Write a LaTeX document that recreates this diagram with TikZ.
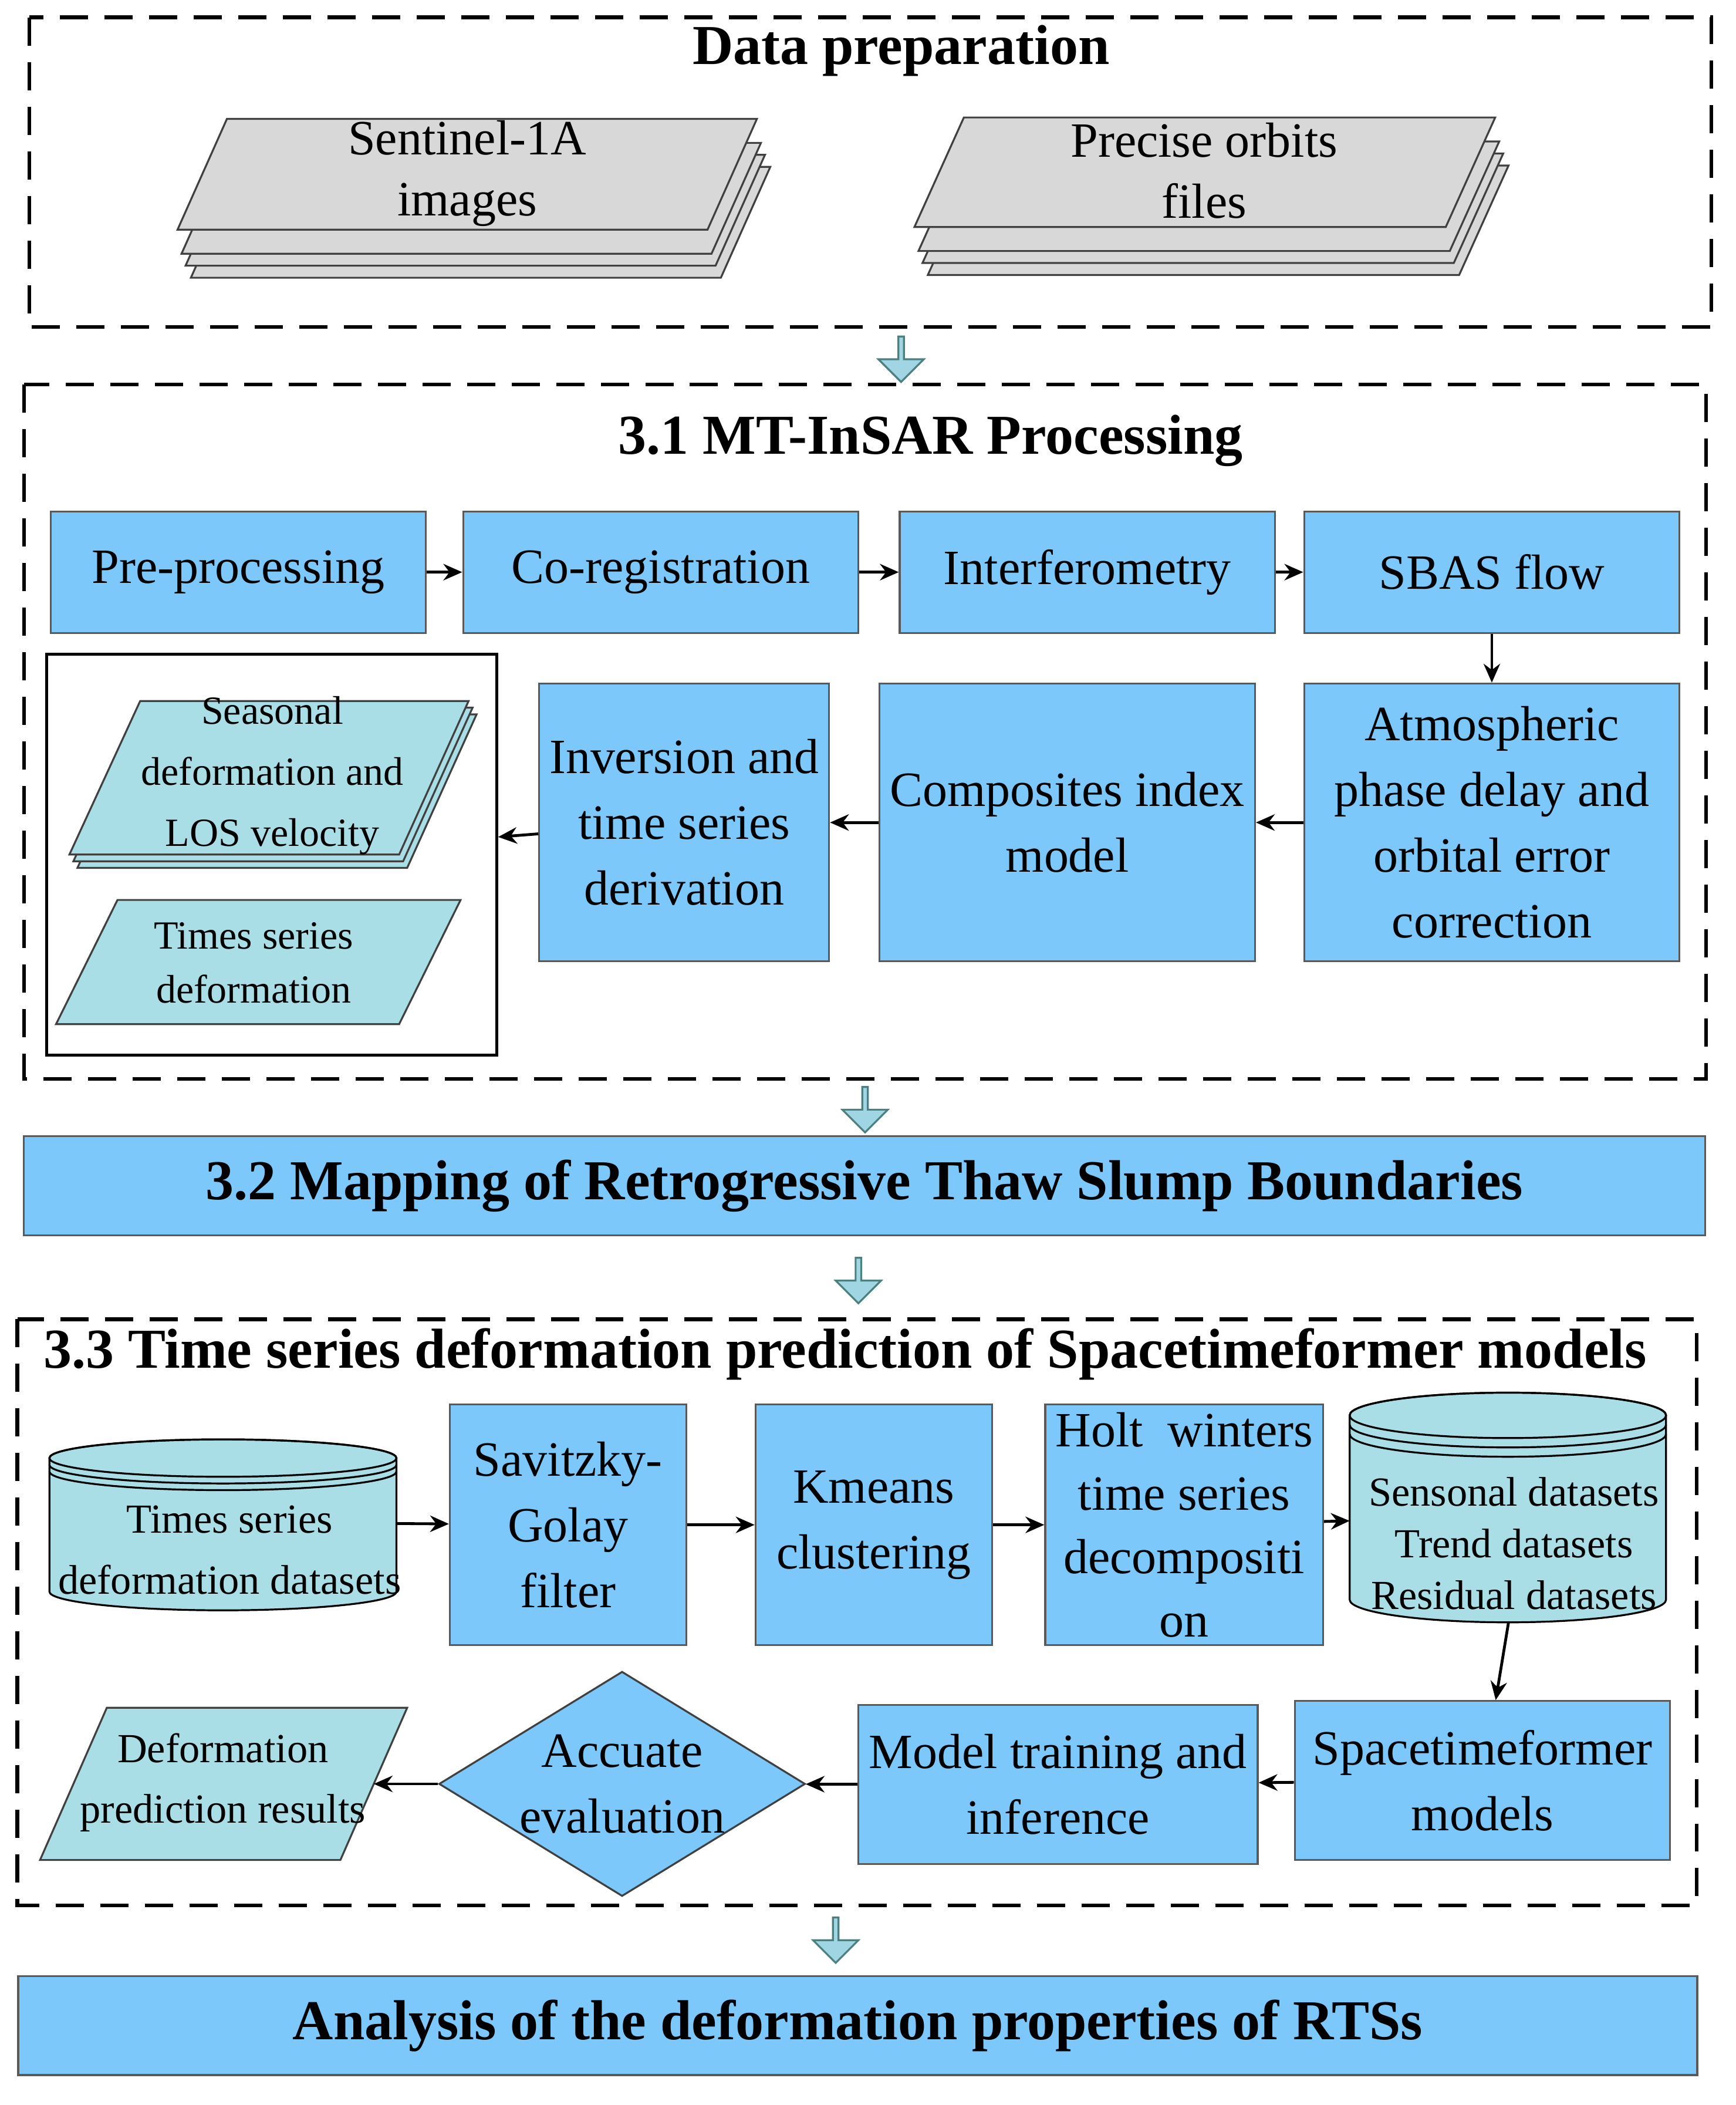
\documentclass[tikz,border=0pt]{standalone}
\usepackage{fontspec}
\setmainfont{Liberation Serif}
\usetikzlibrary{arrows.meta,shapes.geometric,shapes.arrows,positioning}

\definecolor{boxblue}{RGB}{124,200,250}
\definecolor{datacyan}{RGB}{170,222,230}
\definecolor{stackgray}{RGB}{216,216,216}
\definecolor{bigarrow}{RGB}{160,214,228}

\tikzset{
	frame/.style={draw,dashed,line width=0.8pt,dash pattern=on 6pt off 3.5pt},
	proc/.style={draw=gray!70!black,fill=boxblue,line width=0.4pt,align=center,
		font=\fontsize{10.5}{14}\selectfont,inner sep=0pt},
	title/.style={font=\bfseries\fontsize{12}{14}\selectfont},
	small/.style={font=\fontsize{8.5}{11.5}\selectfont,align=center},
	link/.style={-{Stealth[length=4pt,width=3.5pt]},line width=0.6pt},
	fat/.style={single arrow,draw=gray!60!teal,fill=bigarrow,rotate=-90,
		minimum height=0.34cm,minimum width=0.34cm,single arrow head extend=0.05cm,inner sep=0pt}
}

\begin{document}
\begin{tikzpicture}[x=0.01cm,y=0.01cm]
	\useasboundingbox (0,0) rectangle (1300,-1576.5);
	
	% 数据准备
	\draw[frame] (22,-13) rectangle (1282,-245);
	\node[title] (prep) at (675,-38) {Data preparation};
	\foreach \dx/\dy in {10/36,6/27,3/18,0/0}{
		\draw[fill=stackgray,draw=gray!50!black] (170+\dx,-89-\dy) -- (567+\dx,-89-\dy) -- (530+\dx,-172-\dy) -- (133+\dx,-172-\dy) -- cycle;
		\draw[fill=stackgray,draw=gray!50!black] (722+\dx,-88-\dy) -- (1120+\dx,-88-\dy) -- (1083+\dx,-170-\dy) -- (685+\dx,-170-\dy) -- cycle;
	}
	\node[small,font=\fontsize{10.5}{13}\selectfont] (s1a) at (350,-130) {Sentinel-1A\\images};
	\node[small,font=\fontsize{10.5}{13}\selectfont] (orb) at (902,-128) {Precise orbits\\files};
	\node[fat] (f1) at (675,-268) {};
	
	% 3.1
	\draw[frame] (18,-288) rectangle (1278,-808);
	\node[title] (t31) at (697,-330) {3.1 MT-InSAR Processing};
	\node[proc,minimum width=2.81cm,minimum height=0.91cm] (pre) at (178.5,-428.5) {Pre-processing};
	\node[proc,minimum width=2.96cm,minimum height=0.91cm] (coreg) at (495,-428.5) {Co-registration};
	\node[proc,minimum width=2.81cm,minimum height=0.91cm] (ifg) at (814.5,-428.5) {Interferometry};
	\node[proc,minimum width=2.81cm,minimum height=0.91cm] (sbas) at (1117.5,-428.5) {SBAS flow};
	\node[proc,minimum width=2.81cm,minimum height=2.08cm] (atm) at (1117.5,-616) {Atmospheric\\phase delay and\\orbital error\\correction};
	\node[proc,minimum width=2.81cm,minimum height=2.08cm] (cim) at (799.5,-616) {Composites index\\model};
	\node[proc,minimum width=2.17cm,minimum height=2.08cm] (inv) at (512.5,-616) {Inversion and\\time series\\derivation};
	\node[draw,line width=0.6pt,minimum width=3.37cm,minimum height=3.0cm] (out) at (203.5,-640) {};
	\foreach \dx/\dy in {6/10,3/5,0/0}{
		\draw[fill=datacyan,draw=gray!50!black] (105+\dx,-525-\dy) -- (351+\dx,-525-\dy) -- (299+\dx,-640-\dy) -- (52+\dx,-640-\dy) -- cycle;
	}
	\draw[fill=datacyan,draw=gray!50!black] (88,-674) -- (345,-674) -- (299,-767) -- (42,-767) -- cycle;
	\node[small,font=\fontsize{8.5}{13}\selectfont] (seas) at (204,-581) {Seasonal\\deformation and\\LOS velocity};
	\node[small] (tsd) at (190,-721) {Times series\\deformation};
	\draw[link] (pre) -- (coreg);
	\draw[link] (coreg) -- (ifg);
	\draw[link] (ifg) -- (sbas);
	\draw[link] (sbas) -- (atm);
	\draw[link] (atm) -- (cim);
	\draw[link] (cim) -- (inv);
	\draw[link] (inv) -- (out);
	\node[fat] (f2) at (648,-830) {};
	
	% 3.2
	\node[proc,title,minimum width=12.59cm,minimum height=0.74cm] (map) at (647.5,-888) {3.2 Mapping of Retrogressive Thaw Slump Boundaries};
	\node[fat] (f3) at (643,-958) {};
	
	% 3.3
	\draw[frame] (13,-988) rectangle (1271,-1427);
	\node[title] (t33) at (633,-1014) {3.3 Time series deformation prediction of Spacetimeformer models};
	\draw[fill=datacyan,draw=black] (37,-1092) -- (37,-1192) arc[start angle=180,end angle=360,x radius=130,y radius=14] -- (297,-1092) arc[start angle=0,end angle=180,x radius=130,y radius=14] -- cycle;
	\draw (167,-1092) ellipse[x radius=130,y radius=14];
	\foreach \dy in {5,10}{\draw (37,-1092-\dy) arc[start angle=180,end angle=360,x radius=130,y radius=14];}
	\node[small,font=\fontsize{8.8}{13}\selectfont] (tsdata) at (172,-1161) {Times series\\deformation datasets};
	\draw[fill=datacyan,draw=black] (1011,-1060) -- (1011,-1198) arc[start angle=180,end angle=360,x radius=118.5,y radius=17] -- (1248,-1060) arc[start angle=0,end angle=180,x radius=118.5,y radius=17] -- cycle;
	\draw (1129.5,-1060) ellipse[x radius=118.5,y radius=17];
	\foreach \dy in {7,14}{\draw (1011,-1060-\dy) arc[start angle=180,end angle=360,x radius=118.5,y radius=17];}
	\node[small,font=\fontsize{8.8}{11}\selectfont] (decomp) at (1134,-1156) {Sensonal datasets\\Trend datasets\\Residual datasets};
	\coordinate (tsR) at (297,-1141);
	\coordinate (dcL) at (1011,-1139);
	\coordinate (dcB) at (1130,-1215);
	\node[proc,minimum width=1.77cm,minimum height=1.8cm] (sg) at (425.5,-1142) {Savitzky-\\Golay\\filter};
	\node[proc,minimum width=1.77cm,minimum height=1.8cm] (km) at (654.5,-1142) {Kmeans\\clustering};
	\node[proc,minimum width=2.08cm,minimum height=1.8cm,font=\fontsize{10.5}{13.5}\selectfont] (hw) at (887,-1142) {Holt\enspace winters\\time series\\decompositi\\on};
	\node[proc,minimum width=2.81cm,minimum height=1.19cm] (stf) at (1110.5,-1333.5) {Spacetimeformer\\models};
	\node[proc,minimum width=2.99cm,minimum height=1.19cm] (train) at (792.5,-1336.5) {Model training and\\inference};
	\node[diamond,draw=gray!50!black,fill=boxblue,minimum width=2.7cm,minimum height=1.66cm,
		aspect=1.63,inner sep=0pt,align=center,font=\fontsize{10.5}{14}\selectfont] (eval) at (466,-1336) {Accuate\\evaluation};
	\draw[fill=datacyan,draw=gray!50!black] (80,-1279) -- (305,-1279) -- (255,-1393) -- (30,-1393) -- cycle;
	\node[small,font=\fontsize{8.8}{13}\selectfont] (pred) at (167,-1335) {Deformation\\prediction results};
	\coordinate (predR) at (280,-1336);
	\draw[link] (tsR) -- (sg);
	\draw[link] (sg) -- (km);
	\draw[link] (km) -- (hw);
	\draw[link] (hw) -- (dcL);
	\draw[link] (dcB) -- (stf);
	\draw[link] (stf) -- (train);
	\draw[link] (train) -- (eval);
	\draw[link] (eval) -- (predR);
	\node[fat] (f4) at (626,-1452) {};
	
	% 结果分析
	\node[proc,title,minimum width=12.57cm,minimum height=0.74cm] (ana) at (642.5,-1517) {Analysis of the deformation properties of RTSs};
\end{tikzpicture}
\end{document}
